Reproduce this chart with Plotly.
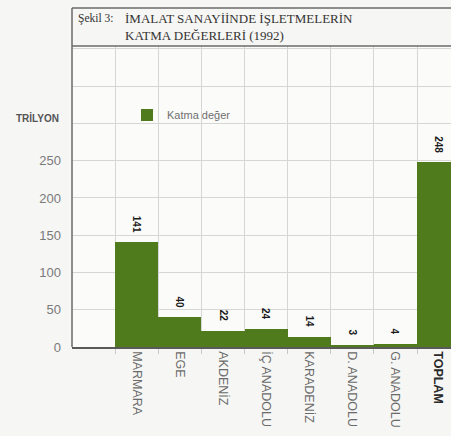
import plotly.graph_objects as go

categories = ["MARMARA", "EGE", "AKDENİZ", "İÇ ANADOLU", "KARADENİZ",
              "D. ANADOLU", "G. ANADOLU", "TOPLAM"]
values = [141, 40, 22, 24, 14, 3, 4, 248]
value_labels = ["141", "40", "22", "24", "14", "3", "4", "248"]
series_name = "Katma değer"
y_tick_vals = [0, 50, 100, 150, 200, 250, 300, 350, 400]
y_tick_text = ["0", "50", "100", "150", "200", "250", "", "", ""]
title_prefix = "Şekil 3:"
title_line1 = "İMALAT SANAYİİNDE İŞLETMELERİN"
title_line2 = "KATMA DEĞERLERİ (1992)"
unit_label = "TRİLYON"

W, H = 451, 436
L, R, T, B = 72, 451, 46, 347  # plot area in pixels


def px_x(px):
    return (px - L) / (R - L)


def px_y(py):
    return (B - py) / (B - T)


x_pos = list(range(1, len(categories) + 1))
bounds = [i + 0.5 for i in range(0, len(categories) + 1)]
tick_text = list(categories[:-1]) + [
    "<b><span style='color:#2a2a2a'>" + categories[-1] + "</span></b>"]

BAR = "#4f7b1d"
GRID = "#d6d6d4"
AXIS = "#5a5a5a"
BG = "#f6f6f4"

fig = go.Figure()
fig.add_trace(go.Bar(
    x=x_pos, y=values, width=1.0, name=series_name,
    marker=dict(color=BAR, line=dict(width=0)),
    showlegend=True, cliponaxis=False, hoverinfo="skip",
))

for xp, v, lab in zip(x_pos, values, value_labels):
    fig.add_annotation(x=xp, y=v, xref="x", yref="y", text="<b>" + lab + "</b>",
                       textangle=90, showarrow=False, yanchor="bottom",
                       xanchor="center", yshift=7,
                       font=dict(family="Liberation Sans", size=10, color="#1a1a1a"))

fig.update_layout(
    width=W, height=H,
    margin=dict(l=L, r=W - R, t=T, b=H - B, autoexpand=False),
    paper_bgcolor=BG, plot_bgcolor="#fbfbfa",
    bargap=0,
    showlegend=True,
    legend=dict(x=px_x(127), y=px_y(115), xanchor="left", yanchor="middle",
                bgcolor="rgba(0,0,0,0)", borderwidth=0,
                font=dict(family="Liberation Sans", size=11, color="#707070")),
    xaxis=dict(
        range=[-0.5, -0.5 + (R - L) / 43.125],
        tickvals=x_pos, ticktext=tick_text, tickangle=90,
        tickfont=dict(family="Liberation Sans", size=12.5, color="#6a6a6a"),
        showgrid=False, zeroline=False,
        showline=True, linecolor=AXIS, linewidth=1.5,
        ticks="", automargin=False,
        minor=dict(tickvals=bounds, showgrid=True, gridcolor=GRID, gridwidth=1,
                   ticks="outside", ticklen=5, tickcolor="#c8c8c8"),
    ),
    yaxis=dict(
        range=[0, 404],
        tickvals=y_tick_vals, ticktext=y_tick_text,
        tickfont=dict(family="Liberation Sans", size=13, color="#7a7a7a"),
        showgrid=True, gridcolor=GRID, gridwidth=1,
        zeroline=False, showline=False, ticks="",
        ticklabelstandoff=10, automargin=False,
    ),
)

line = dict(color="#6a6a6a", width=1.5)
# title frame
fig.add_shape(type="line", xref="paper", yref="paper",
              x0=0, x1=1.02, y0=px_y(8), y1=px_y(8), line=line)
fig.add_shape(type="line", xref="paper", yref="paper",
              x0=0, x1=1.02, y0=1, y1=1, line=line)
fig.add_shape(type="line", xref="paper", yref="paper",
              x0=0, x1=0, y0=0, y1=px_y(8), line=line)

serif = dict(family="Liberation Serif", size=13, color="#333333")
fig.add_annotation(xref="paper", yref="paper", x=px_x(76), y=px_y(18),
                   xanchor="left", yanchor="middle", showarrow=False,
                   text=title_prefix, font=dict(family="Liberation Serif", size=11.5, color="#333333"))
fig.add_annotation(xref="paper", yref="paper", x=px_x(123), y=px_y(18),
                   xanchor="left", yanchor="middle", showarrow=False,
                   text=title_line1, font=serif)
fig.add_annotation(xref="paper", yref="paper", x=px_x(123), y=px_y(35),
                   xanchor="left", yanchor="middle", showarrow=False,
                   text=title_line2, font=serif)
fig.add_annotation(xref="paper", yref="paper", x=px_x(61), y=px_y(118),
                   xanchor="right", yanchor="middle", showarrow=False,
                   text="<b>" + unit_label + "</b>",
                   font=dict(family="Liberation Sans", size=10, color="#555555"))

fig.write_html("out.html",
               config={"displayModeBar": False},
               post_script="document.body.style.margin='0';"
                           "document.body.style.overflow='hidden';"
                           "document.body.style.background='" + BG + "';")
